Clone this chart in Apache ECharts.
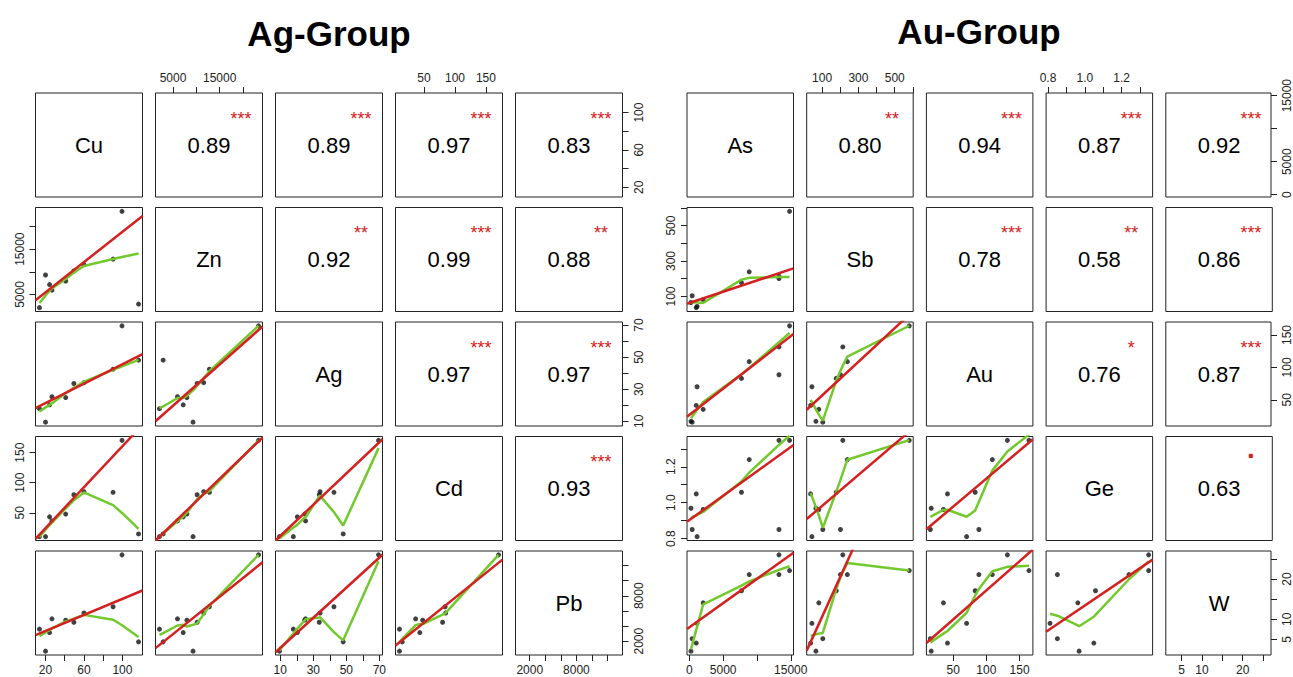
<!DOCTYPE html>
<html><head><meta charset="utf-8">
<script src="https://cdn.jsdelivr.net/npm/echarts@6/dist/echarts.min.js"></script>
<style>html,body{margin:0;padding:0;background:#fff}#c{width:1293px;height:677px}</style>
</head><body><div id="c"></div>
<script>
const FONT = '"Liberation Sans", Arial, Helvetica, sans-serif';

// ---------- Ag-Group data ----------
const agVars = ['Cu', 'Zn', 'Ag', 'Cd', 'Pb'];
const agCu = [13.7, 20, 24.2, 26.7, 41, 49.5, 60, 90.3, 99.6, 116.8];
const agZn = [2106, 9298, 7193, 5965, 7982, 10175, 11578, 12806, 23330, 2895];
const agAg = [17.9, 9.5, 20.3, 25.3, 24.8, 33.6, 34.1, 42.5, 69.5, 48.1];
const agCd = [10.3, 10.3, 43.2, 36.4, 47.8, 80, 85, 84, 170.4, 14.8];
const agPb = [3591, 682, 3136, 4955, 4773, 4500, 5727, 6545, 13408, 1909];
// upper triangle (row-major)
const agCorr = ['0.89', '0.89', '0.97', '0.83', '0.92', '0.99', '0.88', '0.97', '0.97', '0.93'];
const agStars = ['***', '***', '***', '***', '**', '***', '**', '***', '***', '***'];
// red fit lines, lower triangle order (1,0),(2,0),(2,1),(3,0),(3,1),(3,2),(4,0),(4,1),(4,2),(4,3)
const agFitIntercept = [2135, 15.3, 6.86, -9.6, -5.5, -14.6, 2291, 458, -882, 1181];
const agFitSlope = [166.8, 0.3027, 0.002574, 1.702, 0.007465, 2.599, 52.95, 0.4947, 198.9, 65.59];
const agTicks = [[20, 40, 60, 80, 100], [5000, 10000, 15000, 20000], [10, 20, 30, 40, 50, 60, 70], [50, 100, 150], [2000, 4000, 6000, 8000, 10000, 12000]];
const agTickLabels = [[20, 60, 100], [5000, 15000], [10, 30, 50, 70], [50, 100, 150], [2000, 8000]];

// ---------- Au-Group data ----------
const auVars = ['As', 'Sb', 'Au', 'Ge', 'W'];
const auAs = [241, 422, 1024, 1150, 2048, 7711, 8855, 13253, 13253, 14819];
const auSb = [66, 104, 37, 44, 82, 178, 239, 214, 201, 580];
const auAu = [16.9, 15.6, 41.4, 70.2, 35.3, 83.1, 108.9, 131.6, 88.7, 164.1];
const auGe = [0.969, 0.851, 1.049, 0.811, 0.962, 1.058, 1.24, 1.347, 0.851, 1.347];
const auW = [2.1, 5.2, 4.1, 9.0, 14.1, 17.1, 21.1, 26.0, 21.1, 22.1];
const auCorr = ['0.80', '0.94', '0.87', '0.92', '0.78', '0.58', '0.86', '0.76', '0.87', '0.63'];
const auStars = ['**', '***', '***', '***', '***', '**', '***', '*', '***', '.'];
const auFitIntercept = [63.5, 26.7, 30.7, 0.903, 0.8957, 0.8218, 8.03, 0.72, 2.73, -17.48];
const auFitSlope = [0.01265, 0.0081, 0.2597, 2.712e-5, 8.626e-4, 0.003124, 0.0012, 0.09906, 0.1447, 30.91];
const auTicks = [[0, 5000, 10000, 15000], [100, 200, 300, 400, 500, 600], [50, 100, 150], [0.8, 0.9, 1.0, 1.1, 1.2, 1.3], [5, 10, 15, 20, 25]];
const auTickLabels = [[0, 5000, 15000], [100, 300, 500], [50, 100, 150], [0.8, 1.0, 1.2], [5, 10, 20]];
const auDecimals = [0, 0, 0, 1, 0];

// ---------- layout ----------
const LAYOUT = { top0: 93, pitchY: 114.5, h: 104 };
const groups = [
  { title: 'Ag-Group', titleX: 329, titleY: 33, left: 35.5, pitchX: 120, w: 107,
    vars: agVars, data: [agCu, agZn, agAg, agCd, agPb], ticks: agTicks, labels: agTickLabels, dec: [0, 0, 0, 0, 0],
    corr: agCorr, stars: agStars, fitA: agFitIntercept, fitB: agFitSlope },
  { title: 'Au-Group', titleX: 979, titleY: 31, left: 687, pitchX: 119.7, w: 106.5,
    vars: auVars, data: [auAs, auSb, auAu, auGe, auW], ticks: auTicks, labels: auTickLabels, dec: auDecimals,
    corr: auCorr, stars: auStars, fitA: auFitIntercept, fitB: auFitSlope }
];

// R-style lowess (clowess), f = 2/3, iter = 3
function lowess(xIn, yIn) {
  const n = xIn.length;
  const order = xIn.map((_, i) => i).sort((a, b) => (xIn[a] - xIn[b]) || (a - b));
  const x = [NaN], y = [NaN];
  order.forEach(i => { x.push(xIn[i]); y.push(yIn[i]); });
  const f = 2 / 3, nsteps = 3;
  const delta = 0.01 * (x[n] - x[1]);
  const ys = new Array(n + 1).fill(0), rw = new Array(n + 1).fill(0);
  const res = new Array(n + 1).fill(0), w = new Array(n + 1).fill(0);
  const ns = Math.max(2, Math.min(n, Math.floor(f * n + 1e-7)));
  const range = x[n] - x[1];
  function lowest(xs, nleft, nright, userw) {
    const h = Math.max(xs - x[nleft], x[nright] - xs);
    const h9 = 0.999 * h, h1 = 0.001 * h;
    let a = 0, j = nleft;
    while (j <= n) {
      w[j] = 0;
      const r = Math.abs(x[j] - xs);
      if (r <= h9) {
        if (r <= h1) w[j] = 1; else { const q = r / h; const t = 1 - q * q * q; w[j] = t * t * t; }
        if (userw) w[j] *= rw[j];
        a += w[j];
      } else if (x[j] > xs) break;
      j++;
    }
    const nrt = j - 1;
    if (a <= 0) return null;
    for (j = nleft; j <= nrt; j++) w[j] /= a;
    if (h > 0) {
      a = 0;
      for (j = nleft; j <= nrt; j++) a += w[j] * x[j];
      let b = xs - a, c = 0;
      for (j = nleft; j <= nrt; j++) c += w[j] * (x[j] - a) * (x[j] - a);
      if (Math.sqrt(c) > 0.001 * range) {
        b /= c;
        for (j = nleft; j <= nrt; j++) w[j] *= (b * (x[j] - a) + 1);
      }
    }
    let s = 0;
    for (j = nleft; j <= nrt; j++) s += w[j] * y[j];
    return s;
  }
  let iter = 1;
  while (iter <= nsteps + 1) {
    let nleft = 1, nright = ns, last = 0, i = 1;
    for (;;) {
      if (nright < n) {
        const d1 = x[i] - x[nleft], d2 = x[nright + 1] - x[i];
        if (d1 > d2) { nleft++; nright++; continue; }
      }
      const v = lowest(x[i], nleft, nright, iter > 1);
      ys[i] = v === null ? y[i] : v;
      if (last < i - 1) {
        const denom = x[i] - x[last];
        for (let j = last + 1; j < i; j++) {
          const alpha = (x[j] - x[last]) / denom;
          ys[j] = alpha * ys[i] + (1 - alpha) * ys[last];
        }
      }
      last = i;
      const cut = x[last] + delta;
      for (i = last + 1; i <= n; i++) {
        if (x[i] > cut) break;
        if (x[i] === x[last]) { ys[i] = ys[last]; last = i; }
      }
      i = Math.max(last + 1, i - 1);
      if (last >= n) break;
    }
    for (let k = 1; k <= n; k++) res[k] = y[k] - ys[k];
    let sc = 0; for (let k = 1; k <= n; k++) sc += Math.abs(res[k]); sc /= n;
    if (iter > nsteps) break;
    const sorted = res.slice(1).map(Math.abs).sort((p, q) => p - q);
    const m1 = Math.floor(n / 2);
    let cmad;
    if (n % 2 === 0) { const m2 = n - m1 - 1; cmad = 3 * (sorted[m1] + sorted[m2]); }
    else cmad = 6 * sorted[m1];
    if (cmad < 1e-7 * sc) break;
    const c9 = 0.999 * cmad, c1 = 0.001 * cmad;
    for (let k = 1; k <= n; k++) {
      const r = Math.abs(res[k]);
      rw[k] = r <= c1 ? 1 : (r <= c9 ? Math.pow(1 - Math.pow(r / cmad, 2), 2) : 0);
    }
    iter++;
  }
  const out = [];
  for (let k = 1; k <= n; k++) out.push([x[k], ys[k]]);
  return out;
}

function makeAxis(gridIndex, range, ticks, labels, dec, show, position, isY) {
  return {
    type: 'value', gridIndex, min: range[0], max: range[1], position, scale: true,
    splitLine: { show: false }, splitArea: { show: false },
    axisLine: { show: false, onZero: false },
    axisTick: { show, inside: false, length: 6, lineStyle: { color: '#222', width: 1 }, customValues: ticks },
    axisLabel: {
      show, customValues: labels, margin: isY ? 10 : 9, fontSize: 12, color: '#222', fontFamily: FONT,
      rotate: isY ? 90 : 0, hideOverlap: false,
      formatter: v => dec ? Number(v).toFixed(dec) : String(Math.round(v))
    }
  };
}

function textEl(x, y, text, size, color, weight) {
  return {
    type: 'text', x, y, silent: true,
    style: {
      text, fill: color, fontSize: size, fontFamily: FONT, fontWeight: weight || 'normal',
      textAlign: 'center', textVerticalAlign: 'middle', align: 'center', verticalAlign: 'middle'
    }
  };
}

const grids = [], xAxes = [], yAxes = [], series = [], graphics = [];
groups.forEach(G => {
  graphics.push(textEl(G.titleX, G.titleY, G.title, 35, '#000', 'bold'));
  const ext = G.data.map(arr => {
    const mn = Math.min(...arr), mx = Math.max(...arr), r = mx - mn;
    return [mn - 0.04 * r, mx + 0.04 * r];
  });
  let lowerK = 0, upperK = 0;
  for (let i = 0; i < 5; i++) {
    for (let j = 0; j < 5; j++) {
      const gi = grids.length;
      const left = G.left + j * G.pitchX, top = LAYOUT.top0 + i * LAYOUT.pitchY;
      const w = G.w, h = LAYOUT.h;
      grids.push({ left, top, width: w, height: h, show: true, borderColor: '#222', borderWidth: 1, backgroundColor: 'transparent' });
      const showX = (i === 0 && j % 2 === 1) || (i === 4 && j % 2 === 0);
      const showY = (j === 0 && i % 2 === 1) || (j === 4 && i % 2 === 0);
      xAxes.push(makeAxis(gi, ext[j], G.ticks[j], G.labels[j], G.dec[j], showX, i === 0 ? 'top' : 'bottom', false));
      yAxes.push(makeAxis(gi, ext[i], G.ticks[i], G.labels[i], G.dec[i], showY, j === 0 ? 'left' : 'right', true));
      if (i === j) {
        graphics.push(textEl(left + w / 2, top + h / 2, G.vars[i], 22, '#000'));
      } else if (i < j) {
        graphics.push(textEl(left + w / 2, top + h / 2, G.corr[upperK], 22, '#000'));
        const st = G.stars[upperK];
        const isDot = st === '.';
        graphics.push(textEl(left + 0.8 * w, top + 0.2 * h + (isDot ? -9 : 5), st, isDot ? 28 : 18, '#d42020', isDot ? 'bold' : 'normal'));
        upperK++;
      } else {
        const xv = G.data[j], yv = G.data[i];
        series.push({
          type: 'scatter', xAxisIndex: gi, yAxisIndex: gi, symbol: 'circle', symbolSize: 5,
          itemStyle: { color: '#111' }, data: xv.map((v, k) => [v, yv[k]]), silent: true, z: 2
        });
        series.push({
          type: 'line', xAxisIndex: gi, yAxisIndex: gi, showSymbol: false, symbol: 'none', clip: true,
          lineStyle: { color: '#72c92e', width: 2.5 }, data: lowess(xv, yv), silent: true, z: 3
        });
        const a = G.fitA[lowerK], b = G.fitB[lowerK];
        series.push({
          type: 'line', xAxisIndex: gi, yAxisIndex: gi, showSymbol: false, symbol: 'none', clip: true,
          lineStyle: { color: '#d42020', width: 2.5 },
          data: [[ext[j][0], a + b * ext[j][0]], [ext[j][1], a + b * ext[j][1]]], silent: true, z: 4
        });
        lowerK++;
      }
    }
  }
});

const chart = echarts.init(document.getElementById('c'), null, { renderer: 'svg' });
chart.setOption({
  backgroundColor: '#fff',
  animation: false,
  grid: grids, xAxis: xAxes, yAxis: yAxes, series,
  graphic: { elements: graphics }
});
</script></body></html>
